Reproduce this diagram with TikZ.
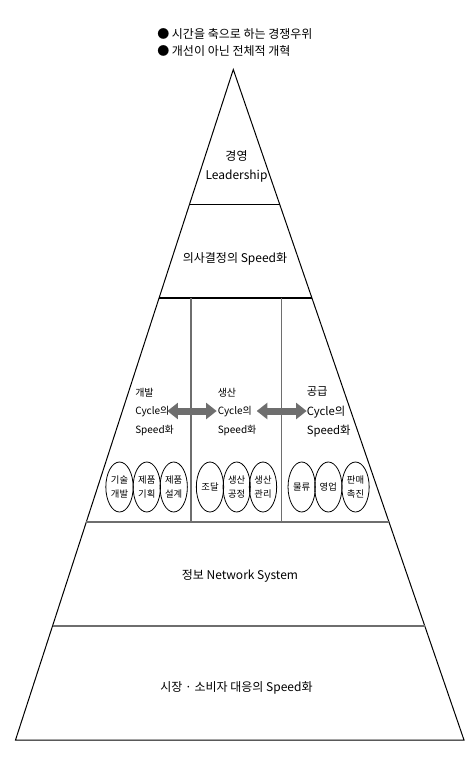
\documentclass[tikz,border=0pt]{standalone}
\usepackage{fontspec}
\setmainfont{Noto Sans CJK KR}
\usetikzlibrary{calc,shapes.geometric,arrows.meta}

\begin{document}
\begin{tikzpicture}[x=0.75pt,y=0.75pt,yscale=-1,xscale=1,
  txt/.style={inner sep=0.75pt,font=\fontsize{9}{14.5}\selectfont,align=center},
  coltxt/.style={anchor=west,inner sep=0.75pt,font=\fontsize{7.5}{14}\selectfont,align=left},
  task/.style={ellipse,draw,line width=0.6pt,minimum width=20.5pt,minimum height=37.5pt,inner sep=0pt,font=\fontsize{7}{11}\selectfont,align=center},
  sep/.style={color={rgb, 255:red, 110; green, 110; blue, 110 },line width=0.9pt},
  link/.style={color={rgb, 255:red, 110; green, 110; blue, 110 },line width=5.25pt,{Triangle[length=8pt,width=12pt]}-{Triangle[length=8pt,width=12pt]}}
]
\useasboundingbox (0,0) rectangle (475,760);

%Shape: Triangle [id:pyramid]
\coordinate (apex) at (233.3,69.5);
\coordinate (bl) at (15.5,740);
\coordinate (br) at (464,740);
\draw [line width=0.75pt] (apex) -- (bl) -- (br) -- cycle ;
%Shape: Lines [id:layers]
\draw [line width=0.9pt] ($(apex)!0.2013!(bl)$) -- ($(apex)!0.2013!(br)$) ;
\draw [line width=0.9pt] ($(apex)!0.3408!(bl)$) -- ($(apex)!0.3408!(br)$) ;
\draw [sep] ($(apex)!0.6749!(bl)$) -- ($(apex)!0.6749!(br)$) ;
\draw [sep] ($(apex)!0.8300!(bl)$) -- ($(apex)!0.8300!(br)$) ;
%Shape: Lines [id:columns]
\draw [sep] (191,298) -- (191,522) ;
\draw [sep] (281.7,298) -- (281.7,522) ;

% Text Node
\node [anchor=west,inner sep=0.75pt,font=\fontsize{9}{12}\selectfont] (goal1) at (156,33.5) {● 시간을 축으로 하는 경쟁우위};
% Text Node
\node [anchor=west,inner sep=0.75pt,font=\fontsize{9}{12}\selectfont] (goal2) at (156,50.5) {● 개선이 아닌 전체적 개혁};
% Text Node
\node [txt] (lead) at (236.5,166.5) {경영\\Leadership};
% Text Node
\node [txt] (decide) at (235,258.5) {의사결정의 Speed화};
% Text Node
\node [txt] (info) at (240,576) {정보 Network System};
% Text Node
\node [txt] (market) at (236.5,687.5) {시장 · 소비자 대응의 Speed화};

% Text Node
\node [coltxt] (dev) at (134,412) {개발\\Cycle의\\Speed화};
% Text Node
\node [coltxt] (prod) at (216.5,412) {생산\\Cycle의\\Speed화};
% Text Node
\node [coltxt,font=\fontsize{8.5}{14.5}\selectfont] (sup) at (305.5,412) {공급\\Cycle의\\Speed화};

%Shape: Double Arrow [id:devprod]
\coordinate (devR) at (167.3,411);
\coordinate (prodL) at (216.7,411);
\draw [link] (devR) -- (prodL) ;
%Shape: Double Arrow [id:prodsup]
\coordinate (prodR) at (256.7,411);
\coordinate (supL) at (306.7,411);
\draw [link] (prodR) -- (supL) ;

%Shape: Ellipse [id:tasks]
\node [task] (dev1) at (119.5,487) {기술\\개발};
\node [task] (dev2) at (146.8,487) {제품\\기획};
\node [task] (dev3) at (173.7,487) {제품\\설계};
\node [task] (prod1) at (210,487) {조달};
\node [task] (prod2) at (236.7,487) {생산\\공정};
\node [task] (prod3) at (263,487) {생산\\관리};
\node [task] (sup1) at (301.7,487) {물류};
\node [task] (sup2) at (328.3,487) {영업};
\node [task] (sup3) at (355.5,487) {판매\\촉진};

\end{tikzpicture}
\end{document}
